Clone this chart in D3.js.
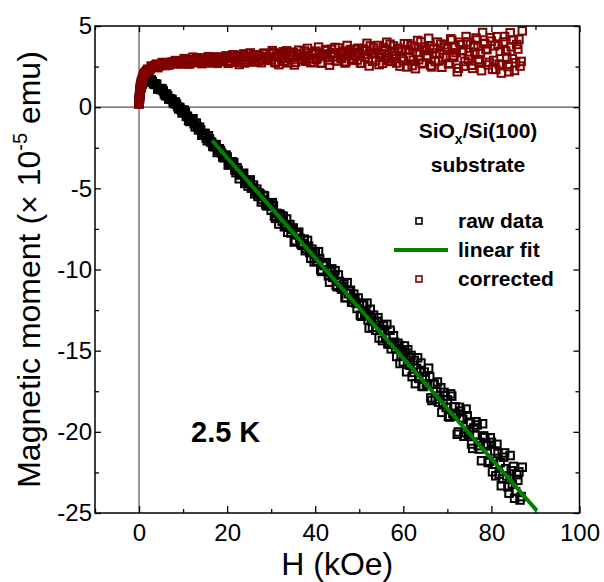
<!DOCTYPE html>
<html>
<head>
<meta charset="utf-8">
<script src="https://cdn.jsdelivr.net/npm/d3@7"></script>
<style>
  body { margin: 0; background: #fff; }
  svg { display: block; font-family: Arial, "Liberation Sans", sans-serif; }
</style>
</head>
<body>
<svg id="chart" width="604" height="582"></svg>
<script>
// Sweep 1: field values (kOe)
const fieldH = [
  0, 0.05, 0.1, 0.15, 0.2, 0.3, 0.4, 0.5, 0.65, 0.8, 1, 1.25, 1.5, 1.75,
  2, 2.5, 3, 3.5, 4, 4.5, 5, 5.5, 6, 6.5, 7, 7.5, 8, 8.5, 9, 9.5,
  10, 10.5, 11, 11.5, 12, 12.5, 13, 13.5, 14, 14.5, 15, 15.5, 16, 16.5, 17, 17.5, 18, 18.5, 19, 19.5,
  20, 20.5, 21, 21.5, 22, 22.5, 23, 23.5, 24, 24.5, 25, 25.5, 26, 26.5, 27, 27.5, 28, 28.5, 29, 29.5,
  30, 30.5, 31, 31.5, 32, 32.5, 33, 33.5, 34, 34.5, 35, 35.5, 36, 36.5, 37, 37.5, 38, 38.5, 39, 39.5,
  40, 40.5, 41, 41.5, 42, 42.5, 43, 43.5, 44, 44.5, 45, 45.5, 46, 46.5, 47, 47.5, 48, 48.5, 49, 49.5,
  50, 50.5, 51, 51.5, 52, 52.5, 53, 53.5, 54, 54.5, 55, 55.5, 56, 56.5, 57, 57.5, 58, 58.5, 59, 59.5,
  60, 60.5, 61, 61.5, 62, 62.5, 63, 63.5, 64, 64.5, 65, 65.5, 66, 66.5, 67, 67.5, 68, 68.5, 69, 69.5,
  70, 70.5, 71, 71.5, 72, 72.5, 73, 73.5, 74, 74.5, 75, 75.5, 76, 76.5, 77, 77.5, 78, 78.5, 79, 79.5,
  80, 80.5, 81, 81.5, 82, 82.5, 83, 83.5, 84, 84.5, 85, 85.5, 86, 86.5, 87
];

// Sweep 1: raw moment (x 1e-5 emu)
const rawM = [
  0.20, 0.40, 0.55, 0.76, 0.94, 1.13, 1.21, 1.37, 1.40, 1.52, 1.62, 1.68, 1.67, 1.70,
  1.72, 1.55, 1.58, 1.40, 1.41, 1.13, 1.08, 1.00, 0.71, 0.69, 0.52, 0.47, 0.22, 0.18, -0.11, -0.14,
  -0.34, -0.30, -0.56, -0.88, -0.79, -1.02, -0.98, -1.40, -1.41, -1.65, -1.62, -2.07, -1.96, -2.17, -2.44, -2.32, -2.67, -2.68, -3.07, -3.03,
  -3.07, -3.51, -3.49, -3.43, -4.03, -3.89, -4.18, -4.10, -4.70, -4.53, -4.60, -4.99, -4.80, -5.21, -5.50, -5.36, -5.69, -5.48, -6.08, -6.05,
  -6.35, -6.07, -6.85, -6.57, -6.59, -7.02, -7.37, -6.89, -7.39, -7.75, -7.44, -8.22, -7.86, -8.08, -8.51, -8.13, -8.71, -8.56, -9.31, -8.93,
  -8.91, -9.48, -9.33, -10.12, -9.76, -9.58, -10.39, -10.16, -10.49, -10.07, -11.06, -10.73, -11.21, -10.92, -11.73, -11.49, -11.28, -12.01, -11.86, -12.40,
  -12.09, -12.88, -12.19, -12.67, -13.10, -12.45, -13.56, -13.20, -13.19, -14.22, -13.69, -13.48, -14.23, -14.59, -13.74, -14.61, -14.48, -15.36, -14.67, -15.34,
  -15.69, -15.14, -14.94, -15.90, -16.60, -15.60, -16.10, -16.71, -15.76, -17.21, -16.61, -17.06, -16.61, -18.07, -17.07, -17.52, -18.17, -17.28, -18.28, -17.78,
  -18.03, -19.09, -17.80, -19.04, -18.89, -20.01, -18.72, -19.24, -20.05, -19.01, -20.00, -20.75, -19.76, -19.38, -20.85, -20.65, -19.50, -20.36, -20.87, -21.81,
  -20.65, -22.00, -22.71, -21.33, -21.90, -22.90, -21.30, -22.72, -23.78, -22.40, -22.13, -23.68, -22.99, -24.20, -22.18
];

// Sweep 1: corrected moment (x 1e-5 emu)
const correctedM = [
  0.20, 0.42, 0.58, 0.81, 0.98, 1.22, 1.33, 1.52, 1.60, 1.77, 1.93, 2.07, 2.13, 2.24,
  2.34, 2.32, 2.51, 2.48, 2.65, 2.52, 2.62, 2.70, 2.56, 2.70, 2.68, 2.79, 2.69, 2.81, 2.67, 2.80,
  2.75, 2.94, 2.84, 2.67, 2.92, 2.84, 3.04, 2.77, 2.92, 2.83, 3.02, 2.72, 2.98, 2.93, 2.81, 3.09, 2.89, 3.04, 2.80, 3.00,
  3.11, 2.83, 3.00, 3.22, 2.77, 3.07, 2.93, 3.17, 2.72, 3.05, 3.13, 2.90, 3.23, 2.98, 2.84, 3.14, 2.96, 3.33, 2.88, 3.07,
  2.92, 3.36, 2.73, 3.17, 3.30, 3.03, 2.83, 3.47, 3.12, 2.92, 3.38, 2.76, 3.26, 3.20, 2.92, 3.46, 3.03, 3.34, 2.74, 3.28,
  3.45, 3.03, 3.34, 2.71, 3.22, 3.55, 2.90, 3.29, 3.11, 3.68, 2.85, 3.33, 3.00, 3.45, 2.80, 3.19, 3.55, 2.98, 3.29, 2.90,
  3.36, 2.72, 3.57, 3.25, 2.97, 3.77, 2.82, 3.34, 3.50, 2.62, 3.31, 3.67, 3.07, 2.87, 3.88, 3.16, 3.44, 2.72, 3.57, 3.05,
  2.85, 3.55, 3.91, 3.11, 2.56, 3.71, 3.37, 2.92, 4.02, 2.72, 3.48, 3.18, 3.78, 2.48, 3.64, 3.34, 2.84, 3.89, 3.05, 3.70,
  3.60, 2.70, 4.14, 3.06, 3.36, 2.40, 3.84, 3.48, 2.82, 4.02, 3.18, 2.58, 3.72, 4.26, 2.94, 3.30, 4.60, 3.90, 3.54, 2.76,
  4.07, 2.88, 2.32, 3.86, 3.44, 2.60, 4.35, 3.09, 2.18, 3.72, 4.14, 2.74, 3.58, 2.53, 4.70
];

// Sweep 2: field values (kOe), interleaved with sweep 1
const fieldH2 = [
  0.02, 0.07, 0.12, 0.25, 0.35, 0.45, 0.57, 0.72, 0.9, 1.1, 1.4, 1.6, 1.9,
  2.25, 2.75, 3.25, 3.75, 4.25, 4.75, 5.25, 5.75, 6.25, 6.75, 7.25, 7.75, 8.25, 8.75, 9.25, 9.75,
  10.25, 10.75, 11.25, 11.75, 12.25, 12.75, 13.25, 13.75, 14.25, 14.75, 15.25, 15.75, 16.25, 16.75, 17.25, 17.75, 18.25, 18.75, 19.25, 19.75,
  20.25, 20.75, 21.25, 21.75, 22.25, 22.75, 23.25, 23.75, 24.25, 24.75, 25.25, 25.75, 26.25, 26.75, 27.25, 27.75, 28.25, 28.75, 29.25, 29.75,
  30.25, 30.75, 31.25, 31.75, 32.25, 32.75, 33.25, 33.75, 34.25, 34.75, 35.25, 35.75, 36.25, 36.75, 37.25, 37.75, 38.25, 38.75, 39.25, 39.75,
  40.25, 40.75, 41.25, 41.75, 42.25, 42.75, 43.25, 43.75, 44.25, 44.75, 45.25, 45.75, 46.25, 46.75, 47.25, 47.75, 48.25, 48.75, 49.25, 49.75,
  50.25, 50.75, 51.25, 51.75, 52.25, 52.75, 53.25, 53.75, 54.25, 54.75, 55.25, 55.75, 56.25, 56.75, 57.25, 57.75, 58.25, 58.75, 59.25, 59.75,
  60.25, 60.75, 61.25, 61.75, 62.25, 62.75, 63.25, 63.75, 64.25, 64.75, 65.25, 65.75, 66.25, 66.75, 67.25, 67.75, 68.25, 68.75, 69.25, 69.75,
  70.25, 70.75, 71.25, 71.75, 72.25, 72.75, 73.25, 73.75, 74.25, 74.75, 75.25, 75.75, 76.25, 76.75, 77.25, 77.75, 78.25, 78.75, 79.25, 79.75,
  80.25, 80.75, 81.25, 81.75, 82.25, 82.75, 83.25, 83.75, 84.25, 84.75, 85.25, 85.75, 86.25, 86.75
];

const rawM2 = [
  0.29, 0.48, 0.66, 1.02, 1.17, 1.28, 1.39, 1.48, 1.58, 1.66, 1.69, 1.69, 1.69,
  1.59, 1.68, 1.45, 1.43, 1.12, 1.15, 1.13, 0.81, 0.81, 0.50, 0.49, 0.28, 0.32, 0.03, -0.02, -0.35,
  -0.18, -0.57, -0.82, -0.72, -0.71, -1.21, -1.21, -1.24, -1.73, -1.62, -1.90, -1.76, -2.14, -2.41, -2.30, -2.79, -2.56, -2.83, -3.12, -2.95,
  -3.57, -3.37, -3.37, -3.87, -3.73, -4.41, -4.14, -4.07, -4.60, -4.86, -4.48, -4.95, -5.34, -5.05, -5.29, -5.84, -5.44, -6.00, -5.96, -5.93,
  -5.88, -6.72, -6.54, -7.20, -6.69, -6.72, -7.29, -7.71, -7.23, -7.53, -8.31, -7.76, -7.70, -8.42, -8.39, -8.84, -8.21, -8.96, -8.75, -9.53,
  -9.51, -8.90, -10.02, -9.64, -9.58, -10.12, -10.78, -9.96, -10.33, -10.98, -10.34, -11.10, -11.07, -11.74, -10.81, -11.35, -12.01, -11.52, -12.07, -11.75,
  -12.81, -12.14, -12.77, -12.07, -13.61, -12.99, -12.81, -13.74, -12.97, -13.70, -14.38, -13.76, -13.38, -14.55, -14.89, -14.08, -14.86, -14.54, -15.79, -15.03,
  -14.71, -16.30, -15.43, -15.29, -16.34, -17.03, -15.44, -16.32, -17.19, -16.32, -17.07, -16.08, -17.91, -17.05, -17.98, -16.93, -17.80, -18.80, -17.57, -18.50,
  -19.04, -17.66, -18.86, -18.46, -20.15, -18.49, -19.13, -20.27, -18.60, -20.16, -19.40, -21.02, -20.19, -19.58, -21.06, -21.78, -20.25, -20.76, -21.89, -20.37,
  -22.46, -21.18, -20.77, -22.61, -23.32, -21.56, -22.27, -23.39, -21.46, -23.22, -24.09, -22.64, -22.47, -23.99
];

const correctedM2 = [
  0.30, 0.50, 0.70, 1.10, 1.28, 1.42, 1.57, 1.70, 1.86, 2.00, 2.12, 2.18, 2.28,
  2.28, 2.53, 2.46, 2.59, 2.43, 2.62, 2.75, 2.59, 2.74, 2.59, 2.73, 2.68, 2.87, 2.74, 2.85, 2.67,
  2.99, 2.76, 2.66, 2.92, 3.08, 2.74, 2.89, 3.02, 2.68, 2.95, 2.81, 3.11, 2.88, 2.77, 3.03, 2.70, 3.08, 2.97, 2.83, 3.16,
  2.70, 3.05, 3.21, 2.86, 3.16, 2.63, 3.06, 3.28, 2.91, 2.80, 3.34, 3.01, 2.78, 3.22, 3.14, 2.74, 3.30, 2.89, 3.09, 3.27,
  3.48, 2.79, 3.13, 2.62, 3.29, 3.41, 3.00, 2.73, 3.37, 3.22, 2.60, 3.29, 3.51, 2.94, 3.13, 2.83, 3.62, 3.02, 3.39, 2.76,
  2.93, 3.70, 2.73, 3.27, 3.48, 3.10, 2.59, 3.57, 3.35, 2.86, 3.65, 3.04, 3.22, 2.72, 3.80, 3.41, 2.90, 3.56, 3.16, 3.63,
  2.72, 3.55, 3.07, 3.93, 2.54, 3.32, 3.65, 2.88, 3.80, 3.23, 2.70, 3.47, 4.00, 3.00, 2.81, 3.77, 3.14, 3.63, 2.53, 3.44,
  3.91, 2.48, 3.50, 3.80, 2.90, 2.37, 4.11, 3.39, 2.67, 3.70, 3.10, 4.24, 2.56, 3.59, 2.81, 4.01, 3.29, 2.46, 3.84, 3.06,
  2.67, 4.21, 3.16, 3.72, 2.18, 4.00, 3.51, 2.53, 4.35, 2.95, 3.86, 2.39, 3.37, 4.14, 2.81, 2.25, 3.93, 3.58, 2.60, 4.28,
  2.34, 3.78, 4.34, 2.66, 2.10, 4.02, 3.46, 2.50, 4.58, 2.98, 2.26, 3.86, 4.18, 2.82
];

// linear fit end points
const fitH = [16.6, 90.3];
const fitM = [-2.05, -24.85];

// axis ticks
const xMajor = [0, 20, 40, 60, 80, 100];
const xMinor = [-10, 10, 30, 50, 70, 90];
const yMajor = [-25, -20, -15, -10, -5, 0, 5];
const yMinor = [-22.5, -17.5, -12.5, -7.5, -2.5, 2.5];

const legendItems = [
  { label: "raw data", kind: "square", color: "#000" },
  { label: "linear fit", kind: "line", color: "#008000" },
  { label: "corrected", kind: "square", color: "#800000" },
];

[[fieldH, rawM, correctedM], [fieldH2, rawM2, correctedM2]].forEach(([a, b, c], i) => {
  if (a.length !== b.length || a.length !== c.length) {
    console.error("length mismatch in sweep", i + 1, a.length, b.length, c.length);
  }
});

const svg = d3.select("#chart");
const plot = { left: 95, right: 579.5, top: 26, bottom: 513 };

const x = d3.scaleLinear().domain([-10, 100]).range([plot.left, plot.right]);
const y = d3.scaleLinear().domain([-25, 5]).range([plot.bottom, plot.top]);

// zero lines
svg.append("line")
  .attr("x1", x(0)).attr("x2", x(0))
  .attr("y1", plot.top).attr("y2", plot.bottom)
  .attr("stroke", "#333").attr("stroke-width", 1);
svg.append("line")
  .attr("x1", plot.left).attr("x2", plot.right)
  .attr("y1", y(0)).attr("y2", y(0))
  .attr("stroke", "#555").attr("stroke-width", 1.2);

// ---------------------------
// axes (ticks pointing inward)
// ---------------------------
function styleAxis(g) {
  g.attr("font-size", null).attr("font-family", null);
  g.select(".domain").remove();
  g.selectAll(".tick line").attr("stroke", "#000").attr("stroke-width", 1.3);
  g.selectAll("text").attr("font-size", 24).attr("fill", "#000");
}

svg.append("g")
  .attr("transform", `translate(0,${plot.bottom})`)
  .call(d3.axisBottom(x).tickValues(xMajor).tickSizeInner(-7).tickSizeOuter(0)
    .tickPadding(11).tickFormat((d) => String(d)))
  .call(styleAxis);
svg.append("g")
  .attr("transform", `translate(0,${plot.bottom})`)
  .call(d3.axisBottom(x).tickValues(xMinor).tickSizeInner(-4).tickSizeOuter(0).tickFormat(""))
  .call(styleAxis);
svg.append("g")
  .attr("transform", `translate(0,${plot.top})`)
  .call(d3.axisTop(x).tickValues(xMajor).tickSizeInner(-6).tickSizeOuter(0).tickFormat(""))
  .call(styleAxis);
svg.append("g")
  .attr("transform", `translate(0,${plot.top})`)
  .call(d3.axisTop(x).tickValues(xMinor).tickSizeInner(-4).tickSizeOuter(0).tickFormat(""))
  .call(styleAxis);

svg.append("g")
  .attr("transform", `translate(${plot.left},0)`)
  .call(d3.axisLeft(y).tickValues(yMajor).tickSizeInner(-6).tickSizeOuter(0)
    .tickPadding(3).tickFormat((d) => String(d)))
  .call(styleAxis);
svg.append("g")
  .attr("transform", `translate(${plot.left},0)`)
  .call(d3.axisLeft(y).tickValues(yMinor).tickSizeInner(-4).tickSizeOuter(0).tickFormat(""))
  .call(styleAxis);
svg.append("g")
  .attr("transform", `translate(${plot.right},0)`)
  .call(d3.axisRight(y).tickValues(yMajor).tickSizeInner(-6).tickSizeOuter(0).tickFormat(""))
  .call(styleAxis);
svg.append("g")
  .attr("transform", `translate(${plot.right},0)`)
  .call(d3.axisRight(y).tickValues(yMinor).tickSizeInner(-4).tickSizeOuter(0).tickFormat(""))
  .call(styleAxis);

// ---------------------------
// data
// ---------------------------
const SQ = 7.5;
const rawPts = fieldH.map((h, i) => ({ h, m: rawM[i] }))
  .concat(fieldH2.map((h, i) => ({ h, m: rawM2[i] })))
  .sort((a, b) => a.h - b.h);
const corrPts = fieldH.map((h, i) => ({ h, m: correctedM[i] }))
  .concat(fieldH2.map((h, i) => ({ h, m: correctedM2[i] })))
  .sort((a, b) => a.h - b.h);

function drawSquares(pts, color) {
  svg.append("g").selectAll("rect")
    .data(pts)
    .join("rect")
    .attr("x", (d) => x(d.h) - SQ / 2)
    .attr("y", (d) => y(d.m) - SQ / 2)
    .attr("width", SQ).attr("height", SQ)
    .attr("fill", "none").attr("stroke", color).attr("stroke-width", 2);
}

drawSquares(rawPts, "#000");

svg.append("path")
  .datum(fitH.map((h, i) => [h, fitM[i]]))
  .attr("d", d3.line().x((d) => x(d[0])).y((d) => y(d[1])))
  .attr("stroke", "#008000").attr("stroke-width", 4).attr("fill", "none");

drawSquares(corrPts, "#800000");

// frame
svg.append("rect")
  .attr("x", plot.left).attr("y", plot.top)
  .attr("width", plot.right - plot.left).attr("height", plot.bottom - plot.top)
  .attr("fill", "none").attr("stroke", "#000").attr("stroke-width", 1.5);

// ---------------------------
// labels
// ---------------------------
svg.append("text")
  .attr("x", (plot.left + plot.right) / 2).attr("y", 575)
  .attr("text-anchor", "middle").attr("font-size", 32)
  .text("H (kOe)");

const yl = svg.append("text")
  .attr("transform", `translate(40,${(plot.top + plot.bottom) / 2}) rotate(-90)`)
  .attr("text-anchor", "middle").attr("font-size", 32);
yl.append("tspan").text("Magnetic moment (× 10");
yl.append("tspan").attr("font-size", 20).attr("dy", -13).text("-5");
yl.append("tspan").attr("dy", 13).text(" emu)");

const sub = svg.append("text")
  .attr("x", 478).attr("y", 138)
  .attr("text-anchor", "middle").attr("font-size", 21).attr("font-weight", "bold");
sub.append("tspan").text("SiO");
sub.append("tspan").attr("font-size", 14).attr("dy", 6).text("x");
sub.append("tspan").attr("dy", -6).text("/Si(100)");

svg.append("text")
  .attr("x", 478).attr("y", 172)
  .attr("text-anchor", "middle").attr("font-size", 21).attr("font-weight", "bold")
  .text("substrate");

svg.append("text")
  .attr("x", 191).attr("y", 442)
  .attr("font-size", 29).attr("font-weight", "bold")
  .text("2.5 K");

// legend
const legend = svg.append("g");
legendItems.forEach((d, i) => {
  const cy = 221 + i * 29;
  if (d.kind === "square") {
    legend.append("rect")
      .attr("x", 419 - 3).attr("y", cy - 3).attr("width", 6).attr("height", 6)
      .attr("fill", "none").attr("stroke", d.color).attr("stroke-width", 1.6);
  } else {
    legend.append("line")
      .attr("x1", 394).attr("x2", 448).attr("y1", cy).attr("y2", cy)
      .attr("stroke", d.color).attr("stroke-width", 4);
  }
  legend.append("text")
    .attr("x", 458).attr("y", cy + 7)
    .attr("font-size", 21).attr("font-weight", "bold")
    .text(d.label);
});
</script>
</body>
</html>
